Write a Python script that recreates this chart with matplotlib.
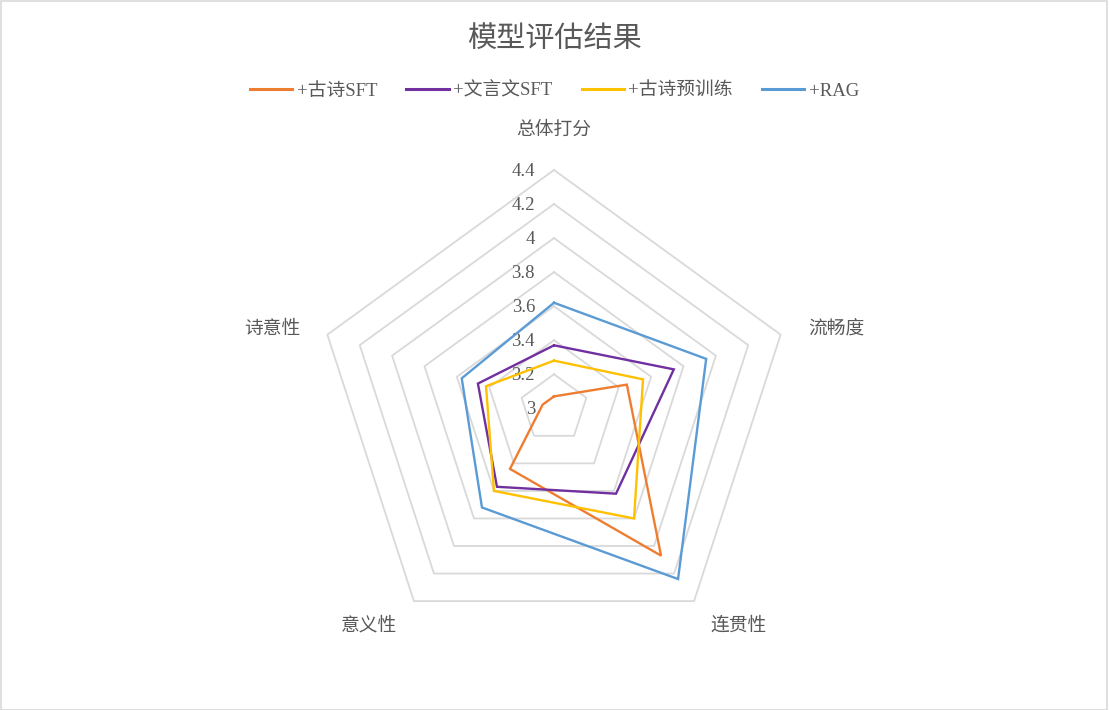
import numpy as np
import matplotlib
matplotlib.use("Agg")
import matplotlib.pyplot as plt
from matplotlib.patches import Rectangle

plt.rcParams['font.family'] = ['Liberation Serif', 'Noto Sans CJK SC', 'DejaVu Sans']

title = "模型评估结果"
categories = ["总体打分", "流畅度", "连贯性", "意义性", "诗意性"]
series_names = ["+古诗SFT", "+文言文SFT", "+古诗预训练", "+RAG"]
vals_gushi_sft = [3.07, 3.45, 4.07, 3.44, 3.07]
vals_wenyan_sft = [3.37, 3.74, 3.62, 3.57, 3.47]
vals_gushi_pre = [3.28, 3.55, 3.80, 3.60, 3.42]
vals_rag = [3.62, 3.94, 4.24, 3.72, 3.57]
tick_values = [3.0, 3.2, 3.4, 3.6, 3.8, 4.0, 4.2, 4.4]
tick_labels = ["3", "3.2", "3.4", "3.6", "3.8", "4", "4.2", "4.4"]

colors = ["#ED7D31", "#7030A0", "#FFC000", "#5B9BD5"]
text_color = "#595959"
grid_color = "#D9D9D9"

W, H = 1109, 710
fig = plt.figure(figsize=(W / 100, H / 100), dpi=100)
fig.patch.set_facecolor("white")

cx, cy, R = 554, 408.3, 238.3
ax = fig.add_axes([(cx - R) / W, (H - cy - R) / H, 2 * R / W, 2 * R / H], projection="polar")
ax.set_theta_offset(np.pi / 2)
ax.set_theta_direction(-1)
ax.set_ylim(tick_values[0], tick_values[-1])
ax.grid(False)
ax.set_xticks([])
ax.set_yticks([])
ax.spines["polar"].set_visible(False)
ax.patch.set_alpha(0)

n = len(categories)
angles = np.linspace(0, 2 * np.pi, n, endpoint=False)
closed_angles = np.concatenate([angles, angles[:1]])

# pentagon gridlines
for v in tick_values[1:]:
    ax.plot(closed_angles, [v] * (n + 1), color=grid_color, lw=1.3, zorder=1, clip_on=False)

# series
all_vals = [vals_gushi_sft, vals_wenyan_sft, vals_gushi_pre, vals_rag]
for i, (name, vals) in enumerate(zip(series_names, all_vals)):
    v = list(vals) + [vals[0]]
    ax.plot(closed_angles, v, color=colors[i], lw=1.7, label=name, zorder=3 + i,
            clip_on=False, solid_joinstyle="miter")

# tick labels along top axis
for v, lab in zip(tick_values, tick_labels):
    ax.annotate(lab, xy=(0, v), xytext=(-19, -1), textcoords="offset pixels",
                ha="right", va="center", fontsize=13.5, color=text_color)

# category labels
offsets = [(0, 40), (56, 5), (45, -25), (-45, -25), (-55, 5)]
for ang, cat, off in zip(angles, categories, offsets):
    ax.annotate(cat, xy=(ang, tick_values[-1]), xytext=off, textcoords="offset pixels",
                ha="center", va="center", fontsize=13.5, color=text_color)

fig.text(0.5, 1 - 40 / H, title, ha="center", va="center", fontsize=21, color=text_color)

leg = fig.legend(loc="center", bbox_to_anchor=(0.5, 1 - 91 / H), ncol=4, frameon=False,
                 fontsize=13.5, handlelength=2.25, handletextpad=0.25, columnspacing=1.55,
                 labelcolor=text_color)
for line in leg.get_lines():
    line.set_linewidth(2.2)

fig.add_artist(Rectangle((0.0005, 0.0007), 0.998, 0.998, transform=fig.transFigure,
                         fill=False, edgecolor=grid_color, lw=1.2))

fig.savefig("out.png", dpi=100, facecolor="white")
